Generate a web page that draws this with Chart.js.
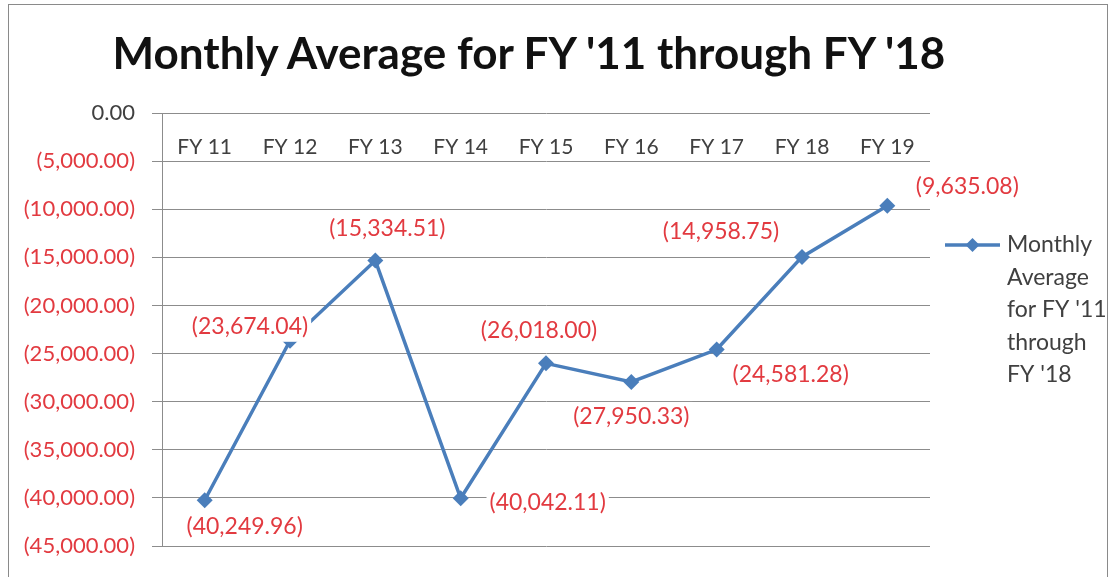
<!DOCTYPE html>
<html>
<head>
<meta charset="utf-8">
<script src="https://cdn.jsdelivr.net/npm/chart.js@4.4.1/dist/chart.umd.min.js"></script>
<style>
  html, body { margin: 0; padding: 0; background: #fff; }
  #wrap { position: relative; width: 1110px; height: 577px; }
  #frame { position: absolute; left: 8px; top: 4px; width: 1100px; height: 574px; border: 1px solid #8a8a8a; box-sizing: border-box; }
  #title { position: absolute; left: 0; width: 1058px; top: 24px; text-align: center; font: bold 44px Lato, 'Open Sans', sans-serif; color: #111; line-height: 56px; }
  canvas { position: absolute; left: 0; top: 0; }
</style>
</head>
<body>
<div id="wrap">
  <div id="frame"></div>
  <canvas id="chart" width="1110" height="577"></canvas>
  <div id="title">Monthly Average for FY '11 through FY '18</div>
</div>
<script>
const years = ["FY 11", "FY 12", "FY 13", "FY 14", "FY 15", "FY 16", "FY 17", "FY 18", "FY 19"];
const monthlyAvg = [-40249.96, -23674.04, -15334.51, -40042.11, -26018.00, -27950.33, -24581.28, -14958.75, -9635.08];
const seriesName = "Monthly Average for FY '11 through FY '18";
const yMin = -45000;
const yMax = 0;
const yStep = 5000;

// where each value label sits relative to its marker (Excel's own placement)
const labelOffsets = [[40, 26], [-40, -14], [12, -32], [87, 4], [-7, -33], [0, 35], [74, 25], [-81, -25], [80, -19]];

const RED = "#e23a40";
const TEXT = "#404040";
const GRID = "#8c8c8c";
const BLUE = "#4a7ebb";
const FONT = "Lato, 'Open Sans', sans-serif";

const fmt = (v) => {
  const s = Math.abs(v).toLocaleString("en-US", { minimumFractionDigits: 2, maximumFractionDigits: 2 });
  return v < 0 ? "(" + s + ")" : s;
};

const valueLabels = {
  id: "valueLabels",
  afterDatasetsDraw(chart) {
    const ctx = chart.ctx;
    const meta = chart.getDatasetMeta(0);
    ctx.save();
    ctx.font = "23px " + FONT;
    ctx.textAlign = "center";
    ctx.textBaseline = "middle";
    meta.data.forEach((pt, i) => {
      const text = fmt(monthlyAvg[i]);
      const [dx, dy] = labelOffsets[i];
      const x = pt.x + dx, y = pt.y + dy;
      const w = ctx.measureText(text).width;
      ctx.fillStyle = "#fff";
      ctx.fillRect(x - w / 2 - 3, y - 15, w + 6, 30);
      ctx.fillStyle = RED;
      ctx.fillText(text, x, y);
    });
    ctx.restore();
  }
};

const sideLegend = {
  id: "sideLegend",
  afterDraw(chart) {
    const ctx = chart.ctx;
    const area = chart.chartArea;
    const x0 = area.right + 15;
    const y0 = area.top + 132;
    ctx.save();
    ctx.strokeStyle = BLUE;
    ctx.lineWidth = 3.5;
    ctx.beginPath();
    ctx.moveTo(x0, y0);
    ctx.lineTo(x0 + 55, y0);
    ctx.stroke();
    ctx.fillStyle = BLUE;
    ctx.beginPath();
    ctx.moveTo(x0 + 27.5, y0 - 7);
    ctx.lineTo(x0 + 34.5, y0);
    ctx.lineTo(x0 + 27.5, y0 + 7);
    ctx.lineTo(x0 + 20.5, y0);
    ctx.closePath();
    ctx.fill();

    ctx.font = "23px " + FONT;
    ctx.fillStyle = TEXT;
    ctx.textAlign = "left";
    ctx.textBaseline = "middle";
    const words = chart.data.datasets[0].label.split(" ");
    const lines = [];
    let cur = "";
    words.forEach((w) => {
      const test = cur ? cur + " " + w : w;
      if (ctx.measureText(test).width > 110 && cur) {
        lines.push(cur);
        cur = w;
      } else {
        cur = test;
      }
    });
    lines.push(cur);
    lines.forEach((ln, i) => ctx.fillText(ln, x0 + 62, y0 + i * 32.5));
    ctx.restore();
  }
};

new Chart(document.getElementById("chart"), {
  type: "line",
  data: {
    labels: years,
    datasets: [{
      label: seriesName,
      data: monthlyAvg,
      borderColor: BLUE,
      backgroundColor: BLUE,
      borderWidth: 3.5,
      pointStyle: "rectRot",
      pointRadius: 8,
      pointHoverRadius: 8,
      pointBorderWidth: 0,
      tension: 0,
      fill: false
    }]
  },
  options: {
    responsive: false,
    animation: false,
    layout: { padding: { left: 0, right: 180, top: 113, bottom: 31 } },
    plugins: {
      legend: { display: false },
      tooltip: { enabled: false },
      title: { display: false }
    },
    scales: {
      x: {
        position: { y: 0 },
        offset: true,
        grid: { display: false, drawTicks: false, offset: true },
        border: { display: false },
        ticks: { color: TEXT, font: { family: FONT, size: 21 }, padding: 22, maxRotation: 0 }
      },
      y: {
        min: yMin,
        max: yMax,
        afterFit(scale) { scale.width = 162; },
        grid: { color: GRID, lineWidth: 1, tickLength: 10, tickColor: GRID },
        border: { display: true, color: GRID, width: 1 },
        ticks: {
          stepSize: yStep,
          padding: 17,
          font: { family: FONT, size: 22 },
          color: (c) => (c.tick && c.tick.value < 0 ? RED : TEXT),
          callback: (v) => (v === 0 ? "0.00" : fmt(v))
        }
      }
    }
  },
  plugins: [valueLabels, sideLegend]
});
</script>
</body>
</html>
